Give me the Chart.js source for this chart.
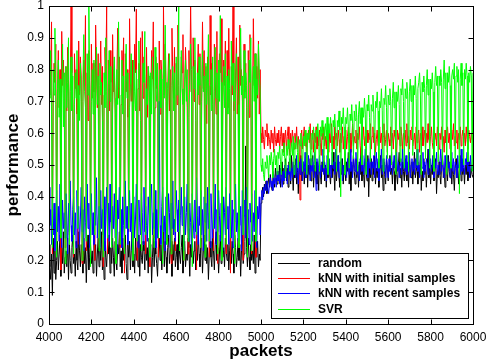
<!DOCTYPE html>
<html>
<head>
<meta charset="utf-8">
<script src="https://cdn.jsdelivr.net/npm/chart.js@4/dist/chart.umd.min.js"></script>
<style>
  html, body { margin: 0; padding: 0; background: #fff; }
  #chart { display: block; }
</style>
</head>
<body>
<canvas id="chart" width="487" height="364"></canvas>
<script>
// packets axis: one sample every 4 packets, 4000 .. 6000
var packetStart = 4000;
var packetStep = 4;

var xTicks = [4000, 4200, 4400, 4600, 4800, 5000, 5200, 5400, 5600, 5800, 6000];
var yTicks = [0, 0.1, 0.2, 0.3, 0.4, 0.5, 0.6, 0.7, 0.8, 0.9, 1];

var seriesNames = ['random', 'kNN with initial samples', 'kNN with recent samples', 'SVR'];
var seriesColors = ['#000000', '#ff0000', '#0000ff', '#00ff00'];

var perfRandom = [
  // 4000 - 4996
  0.25, 0.18, 0.14, 0.22, 0.09, 0.27, 0.16, 0.23, 0.14, 0.20,
  0.26, 0.17, 0.22, 0.28, 0.15, 0.24, 0.19, 0.29, 0.16, 0.21,
  0.23, 0.18, 0.27, 0.14, 0.25, 0.20, 0.16, 0.24, 0.28, 0.19,
  0.22, 0.15, 0.26, 0.20, 0.17, 0.29, 0.23, 0.18, 0.25, 0.21,
  0.16, 0.27, 0.19, 0.24, 0.13, 0.22, 0.28, 0.17, 0.21, 0.25,
  0.19, 0.23, 0.16, 0.28, 0.20, 0.25, 0.15, 0.22, 0.27, 0.18,
  0.24, 0.20, 0.29, 0.17, 0.23, 0.14, 0.26, 0.21, 0.18, 0.25,
  0.22, 0.28, 0.16, 0.24, 0.19, 0.27, 0.21, 0.15, 0.26, 0.20,
  0.17, 0.25, 0.22, 0.29, 0.18, 0.23, 0.16, 0.27, 0.20, 0.24,
  0.28, 0.19, 0.14, 0.25, 0.21, 0.26, 0.17, 0.23, 0.29, 0.18,
  0.22, 0.16, 0.27, 0.20, 0.24, 0.18, 0.28, 0.15, 0.25, 0.21,
  0.19, 0.26, 0.23, 0.17, 0.29, 0.20, 0.24, 0.16, 0.27, 0.22,
  0.25, 0.13, 0.21, 0.28, 0.18, 0.26, 0.22, 0.19, 0.15, 0.24,
  0.27, 0.20, 0.25, 0.17, 0.23, 0.29, 0.18, 0.26, 0.21, 0.16,
  0.24, 0.28, 0.19, 0.22, 0.26, 0.15, 0.25, 0.20, 0.27, 0.18,
  0.21, 0.25, 0.17, 0.29, 0.22, 0.19, 0.24, 0.28, 0.16, 0.23,
  0.26, 0.18, 0.22, 0.20, 0.27, 0.24, 0.15, 0.25, 0.21, 0.28,
  0.19, 0.23, 0.26, 0.17, 0.24, 0.20, 0.29, 0.22, 0.18, 0.25,
  0.27, 0.16, 0.23, 0.28, 0.20, 0.25, 0.19, 0.24, 0.14, 0.22,
  0.26, 0.21, 0.18, 0.27, 0.23, 0.17, 0.25, 0.29, 0.20, 0.24,
  0.16, 0.22, 0.28, 0.19, 0.26, 0.21, 0.24, 0.18, 0.27, 0.23,
  0.20, 0.25, 0.17, 0.23, 0.29, 0.19, 0.26, 0.22, 0.16, 0.28,
  0.24, 0.18, 0.21, 0.27, 0.20, 0.25, 0.15, 0.23, 0.28, 0.19,
  0.22, 0.26, 0.56, 0.24, 0.18, 0.27, 0.21, 0.17, 0.25, 0.20,
  0.23, 0.19, 0.28, 0.16, 0.24, 0.21, 0.26, 0.18, 0.22, 0.20,
  // 5000 - 6000
  0.38, 0.41, 0.43, 0.40, 0.44, 0.42, 0.45, 0.41, 0.44, 0.46,
  0.43, 0.47, 0.44, 0.42, 0.48, 0.45, 0.43, 0.49, 0.46, 0.44,
  0.48, 0.45, 0.50, 0.43, 0.47, 0.51, 0.44, 0.49, 0.46, 0.52,
  0.45, 0.49, 0.43, 0.51, 0.47, 0.44, 0.53, 0.48, 0.42, 0.50,
  0.46, 0.52, 0.44, 0.49, 0.41, 0.50, 0.47, 0.53, 0.45, 0.48,
  0.51, 0.44, 0.49, 0.46, 0.54, 0.43, 0.50, 0.47, 0.52, 0.45,
  0.48, 0.53, 0.43, 0.50, 0.46, 0.51, 0.44, 0.49, 0.42, 0.52,
  0.47, 0.44, 0.51, 0.48, 0.53, 0.45, 0.50, 0.43, 0.49, 0.46,
  0.52, 0.47, 0.44, 0.50, 0.46, 0.54, 0.48, 0.42, 0.51, 0.45,
  0.49, 0.53, 0.46, 0.43, 0.51, 0.47, 0.52, 0.44, 0.50, 0.48,
  0.45, 0.51, 0.48, 0.54, 0.44, 0.49, 0.42, 0.50, 0.47, 0.53,
  0.48, 0.44, 0.52, 0.46, 0.50, 0.43, 0.51, 0.47, 0.55, 0.45,
  0.50, 0.47, 0.43, 0.52, 0.48, 0.45, 0.53, 0.40, 0.49, 0.46,
  0.52, 0.45, 0.50, 0.47, 0.54, 0.44, 0.49, 0.46, 0.51, 0.43,
  0.48, 0.53, 0.46, 0.50, 0.42, 0.51, 0.47, 0.44, 0.52, 0.49,
  0.45, 0.50, 0.53, 0.47, 0.49, 0.44, 0.51, 0.48, 0.42, 0.52,
  0.47, 0.44, 0.50, 0.54, 0.46, 0.49, 0.43, 0.51, 0.48, 0.45,
  0.52, 0.47, 0.45, 0.50, 0.43, 0.53, 0.48, 0.46, 0.51, 0.44,
  0.49, 0.54, 0.46, 0.48, 0.51, 0.44, 0.50, 0.47, 0.53, 0.42,
  0.48, 0.45, 0.52, 0.47, 0.50, 0.43, 0.49, 0.55, 0.46, 0.51,
  0.44, 0.50, 0.47, 0.53, 0.45, 0.49, 0.52, 0.41, 0.48, 0.46,
  0.51, 0.47, 0.44, 0.50, 0.54, 0.46, 0.49, 0.43, 0.52, 0.48,
  0.45, 0.53, 0.48, 0.46, 0.51, 0.44, 0.50, 0.47, 0.42, 0.49,
  0.52, 0.46, 0.50, 0.44, 0.48, 0.53, 0.45, 0.51, 0.47, 0.49,
  0.44, 0.50, 0.47, 0.52, 0.45, 0.48, 0.51, 0.46, 0.49, 0.47,
  0.46
];

var perfKnnInitial = [
  // 4000 - 4996
  0.84, 0.72, 0.79, 0.95, 0.22, 0.70, 0.82, 0.76, 0.88, 0.26,
  0.74, 0.86, 0.68, 0.80, 0.17, 0.92, 0.75, 0.83, 0.71, 0.24,
  0.81, 0.67, 0.87, 0.77, 0.28, 0.73, 1.00, 0.79, 0.69, 0.21,
  0.85, 0.74, 0.80, 0.66, 0.25, 0.89, 0.72, 0.84, 0.78, 0.19,
  0.70, 0.83, 0.75, 0.97, 0.23, 0.79, 0.64, 0.86, 0.74, 0.27,
  0.88, 0.71, 0.82, 0.73, 0.20, 0.94, 0.78, 0.68, 0.85, 0.24,
  0.75, 0.89, 0.69, 0.81, 0.18, 0.72, 0.87, 0.77, 1.00, 0.22,
  0.83, 0.67, 0.86, 0.76, 0.26, 0.91, 0.73, 0.80, 0.66, 0.21,
  0.77, 0.93, 0.71, 0.84, 0.24, 0.69, 0.86, 0.78, 0.90, 0.16,
  0.85, 0.73, 0.80, 0.65, 0.29, 0.96, 0.76, 0.70, 0.83, 0.23,
  0.69, 0.88, 0.79, 0.99, 0.20, 0.74, 0.82, 0.67, 0.90, 0.25,
  0.92, 0.71, 0.84, 0.76, 0.22, 0.87, 0.65, 0.81, 0.73, 0.18,
  0.70, 0.86, 0.77, 0.95, 0.27, 0.68, 0.84, 0.74, 0.80, 0.21,
  0.89, 0.66, 0.83, 0.78, 0.24, 1.00, 0.72, 0.88, 0.70, 0.26,
  0.74, 0.85, 0.67, 0.80, 0.19, 0.93, 0.77, 0.71, 0.87, 0.23,
  0.82, 0.69, 0.94, 0.75, 0.28, 0.66, 0.84, 0.79, 0.91, 0.20,
  0.72, 0.87, 0.77, 0.68, 0.22, 0.86, 0.73, 1.00, 0.80, 0.25,
  0.90, 0.70, 0.83, 0.64, 0.17, 0.78, 0.88, 0.69, 0.85, 0.24,
  0.67, 0.95, 0.74, 0.86, 0.26, 0.81, 0.63, 0.84, 0.76, 0.21,
  0.97, 0.72, 0.82, 0.69, 0.23, 0.88, 0.78, 0.66, 0.92, 0.19,
  0.71, 0.85, 0.79, 0.96, 0.27, 0.70, 0.83, 0.75, 0.89, 0.22,
  0.86, 0.68, 0.93, 0.74, 0.16, 0.81, 0.72, 1.00, 0.67, 0.25,
  0.78, 0.90, 0.66, 0.84, 0.24, 0.94, 0.75, 0.80, 0.70, 0.20,
  0.88, 0.73, 0.82, 0.68, 0.28, 0.86, 0.65, 0.91, 0.78, 0.22,
  0.70, 0.96, 0.75, 0.85, 0.21, 0.81, 0.71, 0.89, 0.66, 0.80,
  // 5000 - 6000
  0.60, 0.57, 0.62, 0.58, 0.55, 0.61, 0.59, 0.63, 0.56, 0.60,
  0.58, 0.55, 0.61, 0.57, 0.60, 0.54, 0.62, 0.58, 0.56, 0.60,
  0.57, 0.61, 0.55, 0.59, 0.62, 0.56, 0.60, 0.54, 0.58, 0.61,
  0.55, 0.59, 0.62, 0.57, 0.53, 0.60, 0.56, 0.61, 0.58, 0.55,
  0.60, 0.57, 0.62, 0.55, 0.59, 0.56, 0.39, 0.58, 0.61, 0.55,
  0.59, 0.62, 0.56, 0.60, 0.54, 0.58, 0.61, 0.57, 0.63, 0.55,
  0.58, 0.61, 0.54, 0.60, 0.57, 0.62, 0.55, 0.59, 0.56, 0.61,
  0.57, 0.53, 0.60, 0.58, 0.62, 0.56, 0.59, 0.55, 0.61, 0.58,
  0.54, 0.60, 0.57, 0.63, 0.56, 0.59, 0.55, 0.62, 0.58, 0.60,
  0.56, 0.61, 0.58, 0.54, 0.60, 0.57, 0.62, 0.55, 0.59, 0.57,
  0.61, 0.55, 0.59, 0.62, 0.57, 0.60, 0.54, 0.58, 0.63, 0.56,
  0.59, 0.57, 0.61, 0.55, 0.60, 0.58, 0.62, 0.56, 0.53, 0.60,
  0.58, 0.62, 0.56, 0.59, 0.55, 0.61, 0.57, 0.60, 0.58, 0.63,
  0.55, 0.59, 0.62, 0.57, 0.60, 0.54, 0.58, 0.61, 0.56, 0.59,
  0.62, 0.57, 0.60, 0.55, 0.59, 0.63, 0.56, 0.58, 0.61, 0.54,
  0.60, 0.58, 0.56, 0.62, 0.57, 0.60, 0.55, 0.61, 0.59, 0.57,
  0.54, 0.61, 0.58, 0.60, 0.56, 0.62, 0.59, 0.55, 0.60, 0.58,
  0.61, 0.56, 0.63, 0.57, 0.59, 0.55, 0.61, 0.58, 0.62, 0.56,
  0.58, 0.60, 0.55, 0.62, 0.57, 0.59, 0.61, 0.54, 0.60, 0.58,
  0.62, 0.56, 0.59, 0.61, 0.55, 0.60, 0.57, 0.63, 0.58, 0.56,
  0.59, 0.62, 0.57, 0.55, 0.61, 0.58, 0.60, 0.56, 0.62, 0.59,
  0.55, 0.60, 0.58, 0.62, 0.56, 0.59, 0.54, 0.61, 0.57, 0.60,
  0.62, 0.57, 0.60, 0.55, 0.59, 0.61, 0.58, 0.63, 0.56, 0.59,
  0.57, 0.61, 0.55, 0.60, 0.58, 0.62, 0.56, 0.59, 0.61, 0.57,
  0.60, 0.56, 0.62, 0.58, 0.55, 0.61, 0.59, 0.57, 0.60, 0.58,
  0.59
];

var perfKnnRecent = [
  // 4000 - 4996
  0.43, 0.31, 0.36, 0.25, 0.40, 0.28, 0.38, 0.23, 0.34, 0.42,
  0.29, 0.37, 0.26, 0.44, 0.32, 0.24, 0.39, 0.30, 0.35, 0.27,
  0.41, 0.33, 0.22, 0.38, 0.29, 0.45, 0.31, 0.26, 0.36, 0.40,
  0.28, 0.35, 0.24, 0.42, 0.30, 0.37, 0.25, 0.33, 0.43, 0.29,
  0.36, 0.23, 0.40, 0.32, 0.27, 0.44, 0.30, 0.38, 0.24, 0.34,
  0.41, 0.28, 0.35, 0.25, 0.39, 0.31, 0.46, 0.27, 0.33, 0.37,
  0.24, 0.42, 0.30, 0.36, 0.28, 0.40, 0.23, 0.34, 0.43, 0.29,
  0.38, 0.26, 0.44, 0.32, 0.25, 0.37, 0.30, 0.41, 0.27, 0.35,
  0.22, 0.39, 0.33, 0.43, 0.28, 0.36, 0.24, 0.40, 0.31, 0.26,
  0.45, 0.30, 0.37, 0.25, 0.34, 0.42, 0.29, 0.38, 0.23, 0.36,
  0.40, 0.27, 0.33, 0.44, 0.30, 0.24, 0.39, 0.32, 0.28, 0.41,
  0.35, 0.25, 0.43, 0.29, 0.37, 0.31, 0.26, 0.40, 0.34, 0.22,
  0.38, 0.44, 0.28, 0.35, 0.30, 0.42, 0.24, 0.36, 0.27, 0.39,
  0.70, 0.31, 0.25, 0.37, 0.43, 0.29, 0.34, 0.23, 0.40, 0.32,
  0.27, 0.41, 0.35, 0.24, 0.38, 0.30, 0.45, 0.28, 0.33, 0.26,
  0.42, 0.36, 0.29, 0.39, 0.25, 0.34, 0.43, 0.31, 0.37, 0.23,
  0.40, 0.28, 0.35, 0.44, 0.30, 0.26, 0.38, 0.32, 0.24, 0.41,
  0.33, 0.27, 0.39, 0.29, 0.46, 0.34, 0.25, 0.37, 0.31, 0.42,
  0.28, 0.36, 0.23, 0.40, 0.32, 0.38, 0.26, 0.43, 0.30, 0.35,
  0.24, 0.41, 0.33, 0.27, 0.39, 0.30, 0.44, 0.25, 0.36, 0.29,
  0.42, 0.34, 0.26, 0.38, 0.31, 0.23, 0.40, 0.35, 0.28, 0.43,
  0.30, 0.37, 0.25, 0.41, 0.33, 0.27, 0.39, 0.24, 0.36, 0.32,
  0.44, 0.29, 0.35, 0.26, 0.40, 0.31, 0.37, 0.23, 0.42, 0.28,
  0.34, 0.39, 0.27, 0.43, 0.30, 0.36, 0.25, 0.38, 0.32, 0.41,
  0.26, 0.35, 0.29, 0.42, 0.31, 0.24, 0.37, 0.33, 0.40, 0.28,
  // 5000 - 6000
  0.40, 0.42, 0.39, 0.43, 0.41, 0.44, 0.42, 0.45, 0.43, 0.41,
  0.44, 0.46, 0.43, 0.45, 0.42, 0.47, 0.44, 0.46, 0.43, 0.48,
  0.45, 0.47, 0.44, 0.49, 0.46, 0.43, 0.48, 0.45, 0.50, 0.46,
  0.48, 0.44, 0.50, 0.47, 0.52, 0.45, 0.49, 0.46, 0.51, 0.47,
  0.50, 0.46, 0.53, 0.48, 0.44, 0.51, 0.47, 0.52, 0.49, 0.45,
  0.51, 0.48, 0.54, 0.46, 0.50, 0.47, 0.53, 0.49, 0.45, 0.52,
  0.48, 0.51, 0.46, 0.54, 0.49, 0.42, 0.52, 0.47, 0.50, 0.53,
  0.46, 0.50, 0.48, 0.55, 0.47, 0.51, 0.49, 0.45, 0.53, 0.48,
  0.52, 0.47, 0.50, 0.46, 0.54, 0.49, 0.51, 0.47, 0.55, 0.50,
  0.48, 0.53, 0.46, 0.51, 0.49, 0.52, 0.45, 0.50, 0.47, 0.54,
  0.49, 0.46, 0.52, 0.50, 0.47, 0.55, 0.48, 0.51, 0.46, 0.53,
  0.50, 0.48, 0.54, 0.47, 0.51, 0.49, 0.45, 0.52, 0.50, 0.48,
  0.53, 0.47, 0.50, 0.55, 0.48, 0.51, 0.46, 0.52, 0.49, 0.54,
  0.47, 0.51, 0.49, 0.53, 0.46, 0.50, 0.54, 0.48, 0.52, 0.45,
  0.51, 0.49, 0.55, 0.47, 0.52, 0.48, 0.50, 0.46, 0.53, 0.49,
  0.46, 0.52, 0.48, 0.51, 0.54, 0.47, 0.50, 0.53, 0.49, 0.51,
  0.54, 0.48, 0.51, 0.46, 0.50, 0.52, 0.47, 0.55, 0.49, 0.50,
  0.48, 0.53, 0.47, 0.51, 0.49, 0.54, 0.46, 0.50, 0.52, 0.48,
  0.51, 0.47, 0.52, 0.49, 0.55, 0.48, 0.50, 0.46, 0.53, 0.50,
  0.49, 0.54, 0.46, 0.51, 0.48, 0.52, 0.50, 0.47, 0.55, 0.49,
  0.52, 0.48, 0.50, 0.53, 0.46, 0.51, 0.49, 0.54, 0.47, 0.50,
  0.47, 0.51, 0.55, 0.48, 0.52, 0.49, 0.46, 0.53, 0.50, 0.48,
  0.53, 0.49, 0.51, 0.46, 0.50, 0.54, 0.48, 0.52, 0.47, 0.51,
  0.50, 0.46, 0.53, 0.49, 0.51, 0.47, 0.55, 0.48, 0.52, 0.49,
  0.47, 0.52, 0.50, 0.54, 0.48, 0.51, 0.46, 0.53, 0.49, 0.50,
  0.48
];

var perfSvr = [
  // 4000 - 4996
  0.78, 0.71, 0.86, 0.66, 0.24, 0.80, 0.72, 0.93, 0.69, 0.21,
  0.74, 0.83, 0.65, 0.77, 0.27, 0.70, 0.88, 0.62, 0.79, 0.19,
  0.81, 0.68, 0.76, 0.90, 0.25, 0.73, 0.84, 0.67, 0.78, 0.22,
  0.69, 0.79, 0.71, 0.86, 0.30, 0.75, 0.64, 0.82, 0.70, 0.20,
  0.77, 0.91, 0.73, 0.68, 0.26, 0.85, 0.72, 1.00, 0.76, 0.18,
  0.70, 0.80, 0.66, 0.83, 0.28, 0.74, 0.87, 0.69, 0.78, 0.23,
  0.82, 0.72, 0.76, 0.64, 0.21, 0.79, 0.68, 0.90, 0.73, 0.27,
  0.75, 0.86, 0.70, 0.81, 0.24, 0.67, 0.77, 0.84, 0.71, 0.19,
  0.80, 0.69, 0.95, 0.74, 0.25, 0.72, 0.83, 0.66, 0.78, 0.22,
  0.76, 0.88, 0.71, 0.79, 0.30, 0.68, 0.75, 0.85, 0.70, 0.20,
  0.83, 0.73, 0.67, 0.80, 0.26, 0.77, 0.89, 0.72, 0.64, 0.23,
  0.71, 0.82, 0.76, 0.92, 0.28, 0.74, 0.69, 0.81, 0.78, 0.21,
  0.79, 0.66, 0.84, 0.73, 0.24, 0.87, 0.75, 0.70, 0.82, 0.27,
  0.72, 0.80, 0.68, 0.77, 0.19, 0.83, 0.71, 0.94, 0.76, 0.25,
  0.68, 0.78, 0.85, 0.70, 0.22, 0.75, 0.81, 0.67, 0.79, 0.29,
  0.84, 0.72, 0.77, 1.00, 0.23, 0.71, 0.86, 0.74, 0.69, 0.20,
  0.77, 0.83, 0.70, 0.80, 0.26, 0.65, 0.76, 0.88, 0.73, 0.18,
  0.81, 0.74, 0.90, 0.68, 0.28, 0.79, 0.72, 0.84, 0.75, 0.24,
  0.70, 0.86, 0.73, 0.78, 0.21, 0.82, 0.69, 0.77, 0.91, 0.26,
  0.75, 0.80, 0.67, 0.84, 0.30, 0.73, 0.87, 0.71, 0.79, 0.22,
  0.83, 0.70, 0.97, 0.76, 0.20, 0.72, 0.81, 0.68, 0.85, 0.25,
  0.78, 0.66, 0.80, 0.74, 0.27, 0.89, 0.75, 0.82, 0.70, 0.19,
  0.73, 0.85, 0.77, 0.69, 0.24, 0.80, 0.93, 0.72, 0.78, 0.28,
  0.86, 0.71, 0.79, 0.75, 0.21, 0.68, 0.83, 0.76, 0.90, 0.23,
  0.74, 0.81, 0.70, 0.85, 0.26, 0.77, 0.72, 0.88, 0.79, 0.73,
  // 5000 - 6000
  0.50, 0.48, 0.52, 0.47, 0.45, 0.51, 0.49, 0.53, 0.50, 0.46,
  0.53, 0.50, 0.54, 0.51, 0.46, 0.52, 0.55, 0.50, 0.53, 0.47,
  0.54, 0.52, 0.56, 0.51, 0.47, 0.55, 0.53, 0.57, 0.52, 0.46,
  0.56, 0.53, 0.58, 0.55, 0.48, 0.54, 0.57, 0.53, 0.59, 0.47,
  0.57, 0.55, 0.59, 0.54, 0.49, 0.58, 0.56, 0.60, 0.55, 0.48,
  0.59, 0.56, 0.61, 0.57, 0.47, 0.60, 0.58, 0.62, 0.56, 0.50,
  0.60, 0.58, 0.62, 0.57, 0.48, 0.61, 0.59, 0.63, 0.58, 0.48,
  0.62, 0.59, 0.64, 0.60, 0.49, 0.61, 0.63, 0.58, 0.65, 0.47,
  0.63, 0.60, 0.65, 0.61, 0.50, 0.64, 0.62, 0.66, 0.60, 0.48,
  0.64, 0.62, 0.67, 0.61, 0.40, 0.65, 0.63, 0.68, 0.62, 0.47,
  0.65, 0.63, 0.68, 0.62, 0.49, 0.66, 0.64, 0.69, 0.63, 0.52,
  0.67, 0.64, 0.69, 0.65, 0.48, 0.66, 0.70, 0.63, 0.68, 0.50,
  0.68, 0.65, 0.71, 0.66, 0.47, 0.69, 0.67, 0.72, 0.65, 0.51,
  0.69, 0.67, 0.72, 0.66, 0.53, 0.70, 0.68, 0.73, 0.67, 0.49,
  0.70, 0.68, 0.74, 0.67, 0.48, 0.71, 0.69, 0.75, 0.68, 0.52,
  0.72, 0.69, 0.74, 0.70, 0.50, 0.71, 0.76, 0.68, 0.73, 0.47,
  0.73, 0.70, 0.75, 0.69, 0.51, 0.74, 0.72, 0.77, 0.70, 0.49,
  0.74, 0.71, 0.76, 0.72, 0.48, 0.73, 0.77, 0.70, 0.75, 0.53,
  0.75, 0.72, 0.78, 0.71, 0.50, 0.74, 0.76, 0.79, 0.72, 0.47,
  0.76, 0.73, 0.78, 0.74, 0.52, 0.75, 0.80, 0.72, 0.77, 0.49,
  0.77, 0.74, 0.79, 0.73, 0.48, 0.76, 0.81, 0.75, 0.78, 0.51,
  0.78, 0.75, 0.80, 0.76, 0.50, 0.77, 0.83, 0.74, 0.79, 0.47,
  0.79, 0.76, 0.81, 0.75, 0.49, 0.78, 0.80, 0.77, 0.82, 0.52,
  0.78, 0.81, 0.76, 0.80, 0.41, 0.77, 0.82, 0.75, 0.79, 0.50,
  0.80, 0.77, 0.82, 0.78, 0.51, 0.79, 0.76, 0.81, 0.78, 0.48,
  0.79
];

var allSeries = [perfRandom, perfKnnInitial, perfKnnRecent, perfSvr];

function toPoints(values) {
  return values.map(function(v, i) {
    return { x: packetStart + i * packetStep, y: v };
  });
}

var FONT = '"Liberation Sans", Arial, Helvetica, sans-serif';

// no automatic room for the edge labels, the layout padding decides the box
function noEdgePadding(s) {
  s.paddingTop = 0; s.paddingBottom = 0;
  s.paddingLeft = 0; s.paddingRight = 0;
}

// MATLAB style box, inward ticks, axis labels and legend
var matlabFrame = {
  id: 'matlabFrame',
  afterDraw: function(chart) {
    var ctx = chart.ctx;
    var a = chart.chartArea;
    var xs = chart.scales.x;
    var ys = chart.scales.y;
    var L = Math.round(a.left) + 0.5, R = Math.round(a.right) + 0.5;
    var T = Math.round(a.top) + 0.5, B = Math.round(a.bottom) + 0.5;
    var tick = 5;

    ctx.save();
    ctx.strokeStyle = '#000';
    ctx.lineWidth = 1;
    ctx.beginPath();
    xTicks.forEach(function(v) {
      var px = Math.round(xs.getPixelForValue(v)) + 0.5;
      ctx.moveTo(px, B); ctx.lineTo(px, B - tick);
      ctx.moveTo(px, T); ctx.lineTo(px, T + tick);
    });
    yTicks.forEach(function(v) {
      var py = Math.round(ys.getPixelForValue(v)) + 0.5;
      ctx.moveTo(L, py); ctx.lineTo(L + tick, py);
      ctx.moveTo(R, py); ctx.lineTo(R - tick, py);
    });
    ctx.stroke();
    ctx.strokeRect(L, T, R - L, B - T);

    // axis titles
    ctx.fillStyle = '#000';
    ctx.font = 'bold 17px ' + FONT;
    ctx.textAlign = 'center';
    ctx.textBaseline = 'alphabetic';
    ctx.fillText('packets', (a.left + a.right) / 2, 356);
    ctx.save();
    ctx.translate(13, (a.top + a.bottom) / 2);
    ctx.rotate(-Math.PI / 2);
    ctx.textBaseline = 'middle';
    ctx.fillText('performance', 0, 0);
    ctx.restore();

    // legend
    var bx = 271.5, by = 253.5, bw = 197, bh = 65;
    ctx.fillStyle = '#fff';
    ctx.fillRect(bx, by, bw, bh);
    ctx.strokeStyle = '#000';
    ctx.strokeRect(bx, by, bw, bh);
    ctx.font = 'bold 12px ' + FONT;
    ctx.textAlign = 'left';
    ctx.textBaseline = 'middle';
    seriesNames.forEach(function(name, i) {
      var y = Math.round(263 + i * 15.2) + 0.5;
      ctx.strokeStyle = seriesColors[i];
      ctx.beginPath();
      ctx.moveTo(278, y);
      ctx.lineTo(310, y);
      ctx.stroke();
      ctx.fillStyle = '#000';
      ctx.fillText(name, 318, y);
    });
    ctx.restore();
  }
};

var drawOrder = [3, 2, 1, 0]; // SVR on top, random at the bottom

new Chart(document.getElementById('chart').getContext('2d'), {
  type: 'line',
  data: {
    datasets: seriesNames.map(function(name, i) {
      return {
        label: name,
        data: toPoints(allSeries[i]),
        borderColor: seriesColors[i],
        borderWidth: 1,
        pointRadius: 0,
        tension: 0,
        fill: false,
        order: drawOrder[i]
      };
    })
  },
  options: {
    responsive: false,
    devicePixelRatio: 1,
    animation: false,
    parsing: false,
    layout: { padding: { left: 0, right: 14, top: 6, bottom: 0 } },
    plugins: {
      legend: { display: false },
      tooltip: { enabled: false }
    },
    scales: {
      x: {
        type: 'linear',
        min: 4000,
        max: 6000,
        afterBuildTicks: function(s) { s.ticks = xTicks.map(function(v) { return { value: v }; }); },
        afterFit: function(s) { s.height = 40; noEdgePadding(s); },
        grid: { display: false, drawTicks: false },
        border: { display: false },
        ticks: {
          color: '#000',
          padding: 6,
          maxRotation: 0,
          autoSkip: false,
          font: { family: FONT, size: 12 },
          callback: function(v) { return String(v); }
        }
      },
      y: {
        type: 'linear',
        min: 0,
        max: 1,
        afterBuildTicks: function(s) { s.ticks = yTicks.map(function(v) { return { value: v }; }); },
        afterFit: function(s) { s.width = 49; noEdgePadding(s); },
        grid: { display: false, drawTicks: false },
        border: { display: false },
        ticks: {
          color: '#000',
          padding: 5,
          autoSkip: false,
          font: { family: FONT, size: 12 },
          callback: function(v) { return String(v); }
        }
      }
    }
  },
  plugins: [matlabFrame]
});
</script>
</body>
</html>
